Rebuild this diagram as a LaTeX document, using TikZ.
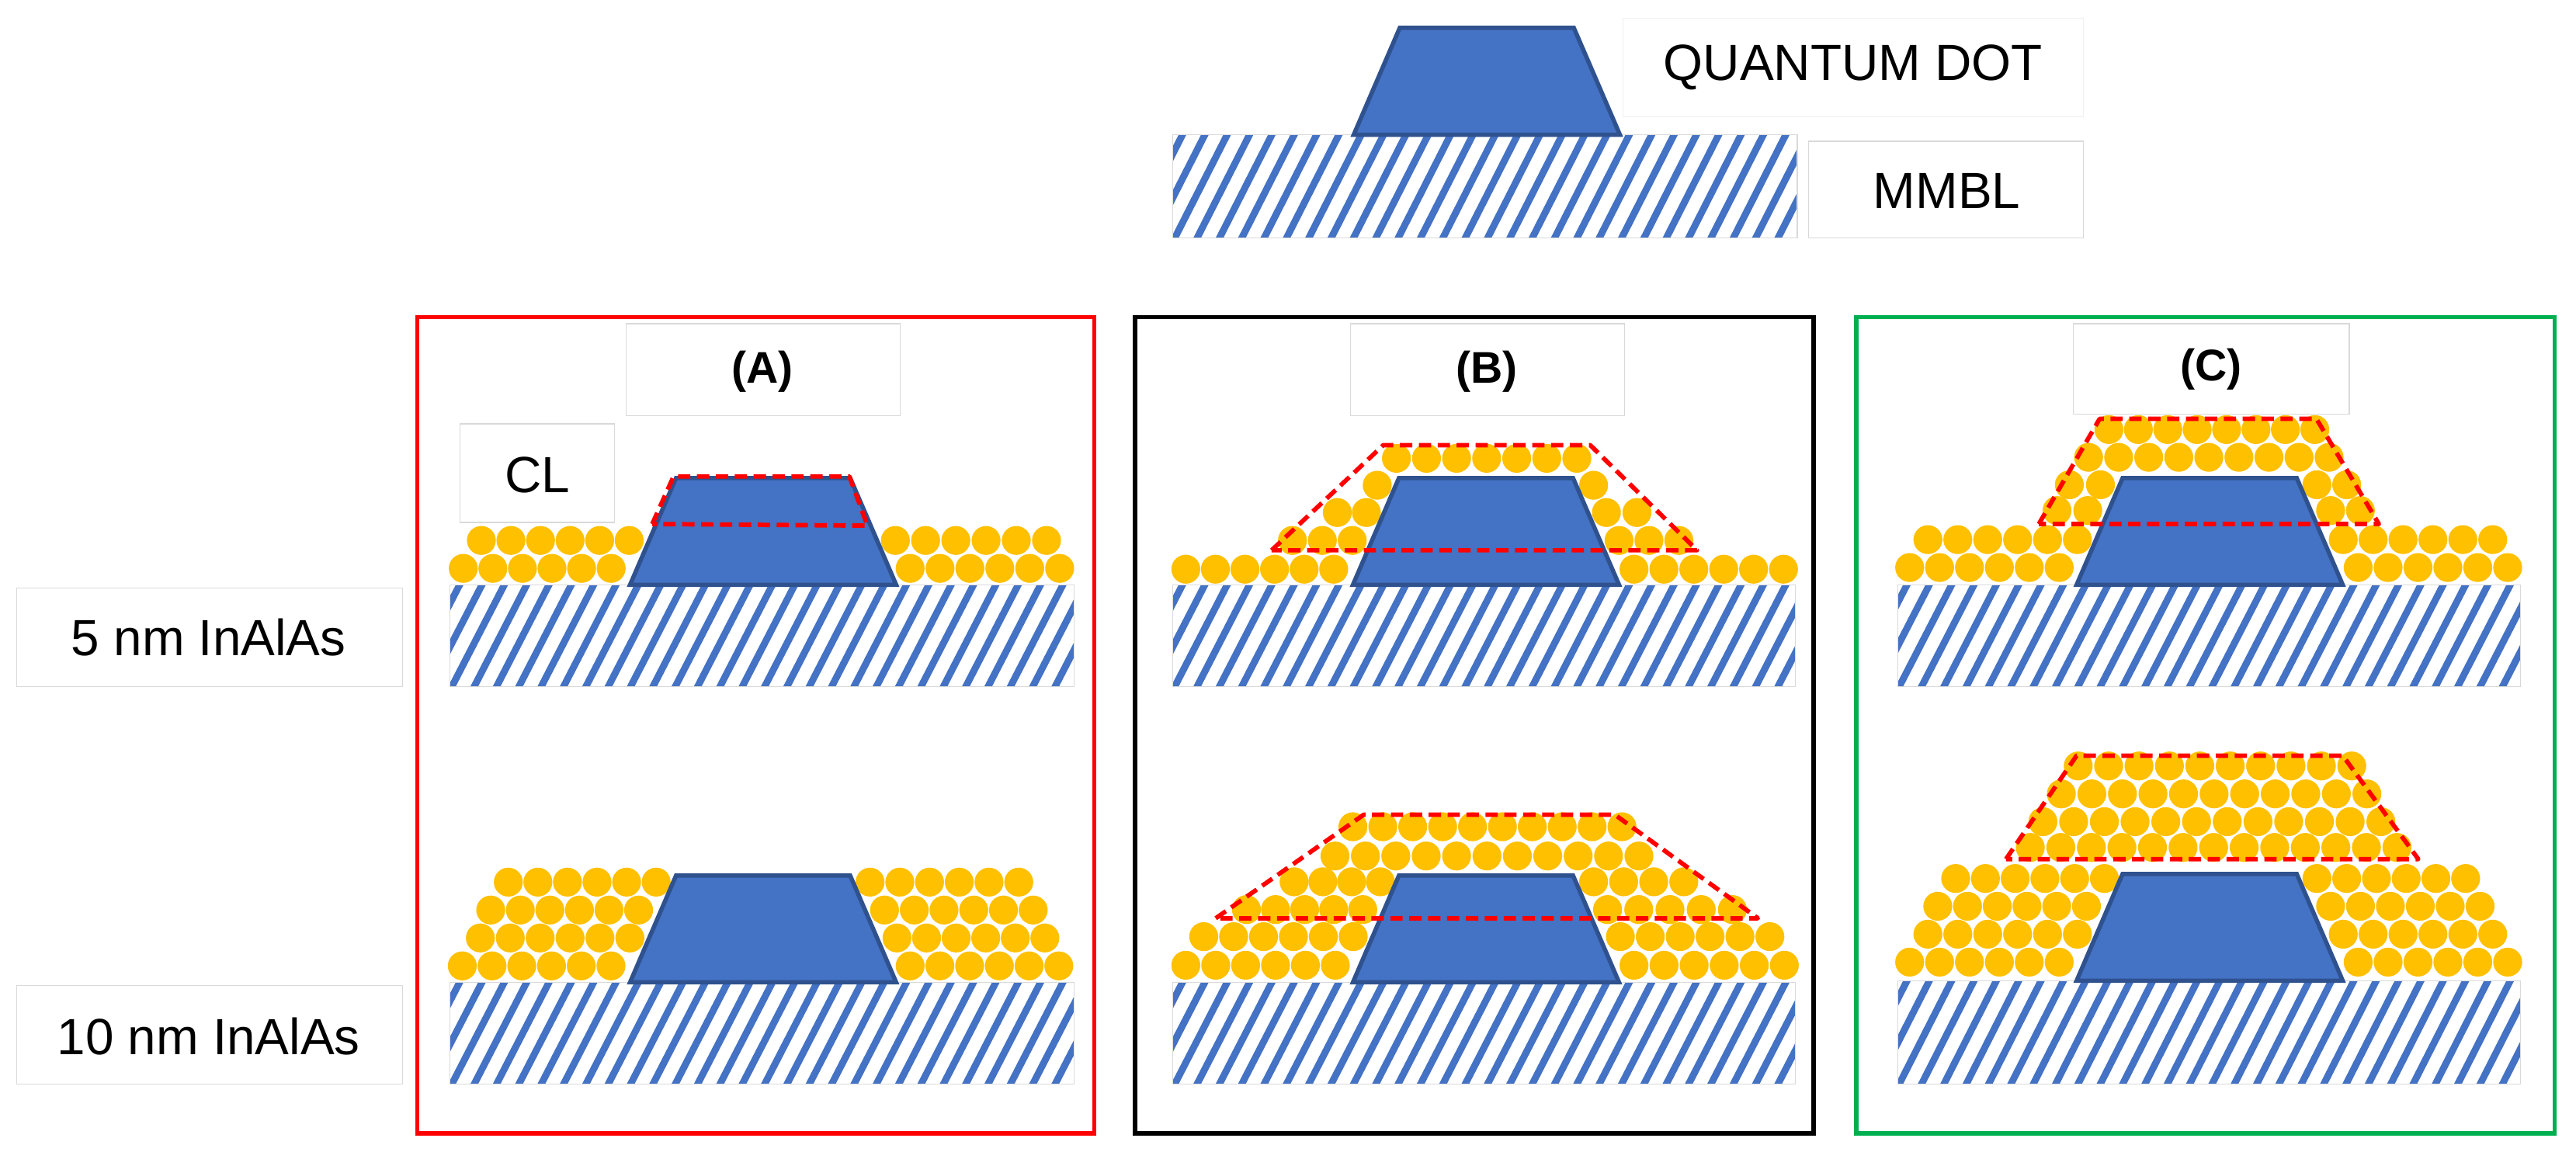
\documentclass[tikz,border=0pt]{standalone}
\usepackage{fontspec}
\setmainfont{Liberation Sans}
\definecolor{qdfill}{HTML}{4472C4}
\definecolor{qdline}{HTML}{2F528F}
\definecolor{dotc}{HTML}{FFC000}
\definecolor{hatchc}{HTML}{4472C4}
\definecolor{cgreen}{HTML}{00B050}
\newcommand\drow[4]{\foreach \i in {1,...,#3}{\fill[dotc] ({#1+(\i-1)*#4},#2) circle[radius=8.8pt];}}
\newcommand\hatchrect[4]{%
  \begin{scope}
    \clip (#1,#2) rectangle (#3,#4);
    \foreach \k in {-4,...,30}{\draw[hatchc,line width=4.2pt] ({#1+\k*13.6},{#4+2}) -- ({#1+\k*13.6+34},{#2-2});}
  \end{scope}
  \draw[gray!30,line width=0.5pt] (#1,#2) rectangle (#3,#4);}
\newcommand\qd[3]{\draw[qdline,fill=qdfill,line width=2.6pt,line join=miter] ({#1-81},#2) -- ({#1-53},{#2-65}) -- ({#1+53},{#2-65}) -- ({#1+81},#2) -- cycle;}
\tikzset{
  lbl/.style={font=\fontsize{31}{36}\selectfont, text=black},
  ttl/.style={font=\fontsize{27}{32}\selectfont\bfseries, text=black},
  lbox/.style={draw=gray!30, line width=0.6pt},
  capline/.style={draw=red, line width=2.7pt, dash pattern=on 7.5pt off 4pt, line join=round},
  frame/.style={line width=2.6pt}
}
\begin{document}
\begin{tikzpicture}[x=1pt,y=-1pt]
\useasboundingbox (0,0) rectangle (1568,701);
\fill[white] (0,0) rectangle (1568,701);

% legend
\hatchrect{714}{82}{1094}{145}
\qd{905}{82}{}
\draw[gray!12,line width=0.6pt] (988,11) rectangle (1268,71);
\node[lbl] (qdl) at (1128,41) {QUANTUM DOT};
\draw[lbox] (1101,86) rectangle (1268,145);
\node[lbl] (mmbl) at (1185,116) {MMBL};

% left labels
\draw[lbox] (10,358) rectangle (245,418);
\node[lbl] (l5) at (127,388) {5 nm InAlAs};
\draw[lbox] (10,600) rectangle (245,660);
\node[lbl] (l10) at (127,631) {10 nm InAlAs};

% frames
\draw[frame,red] (254,193) rectangle (666,690);
\draw[frame,black] (691,193) rectangle (1104,690);
\draw[frame,cgreen] (1130,193) rectangle (1555,690);

% titles
\draw[lbox] (381,197) rectangle (548,253);
\node[ttl] (ta) at (464,226) {(A)};
\draw[lbox] (822,197) rectangle (989,253);
\node[ttl] (tb) at (905,226) {(B)};
\draw[lbox] (1262,197) rectangle (1430,252);
\node[ttl] (tc) at (1346,225) {(C)};
\draw[lbox] (280,258) rectangle (374,318);
\node[lbl] (cl) at (327,289) {CL};

% ===== Panel A
\hatchrect{274}{356}{654}{418}
\drow{282}{346}{6}{18}\drow{554}{346}{6}{18.2}
\drow{293}{329}{6}{18}\drow{545}{329}{6}{18.4}
\qd{464.5}{356}{}
\draw[capline] (397,319) -- (410,290) -- (517,290) -- (528,320) -- cycle;

\hatchrect{274}{598}{654}{660}
\drow{281.4}{588}{6}{18.1}\drow{554}{588}{6}{18.1}
\drow{292.4}{571}{6}{18.2}\drow{546}{571}{6}{18}
\drow{298.7}{554}{6}{18}\drow{538.4}{554}{6}{18.1}
\drow{309.4}{537}{6}{18}\drow{529.6}{537}{6}{18.1}
\qd{464.5}{598}{}

% ===== Panel B
\hatchrect{714}{356}{1093}{418}
\drow{721.8}{346.5}{6}{18}\drow{994.6}{346.5}{6}{18.2}
\drow{786.7}{329}{3}{18.2}\drow{985.5}{329}{3}{18.2}
\drow{814}{312}{2}{17.7}\drow{977.8}{312}{2}{18.6}
\drow{838.3}{295.4}{1}{18}\drow{970}{295.4}{1}{18}
\drow{850}{279}{7}{18.3}
\qd{904.5}{356}{}
\draw[capline] (774,335) -- (842,271) -- (968,271) -- (1033,335) -- cycle;

\hatchrect{714}{598}{1093}{660}
\drow{721.8}{587.6}{6}{18.2}\drow{994.6}{587.6}{6}{18.3}
\drow{732.7}{570.2}{6}{18.2}\drow{986.3}{570.2}{6}{18.2}
\drow{758.7}{553.7}{5}{17.7}\drow{978.5}{553.7}{5}{19}
\drow{787.7}{536.8}{4}{17.5}\drow{970}{536.8}{4}{18.3}
\drow{812.6}{521.1}{11}{18.5}
\drow{823.5}{503.3}{10}{18.2}
\qd{904.5}{598}{}
\draw[capline] (740,559) -- (830,496) -- (983,496) -- (1070,559) -- cycle;

% ===== Panel C
\hatchrect{1155}{356}{1534}{418}
\drow{1162.4}{345.5}{6}{18.2}\drow{1435.4}{345.5}{6}{18.2}
\drow{1173.5}{328.5}{6}{18.2}\drow{1426.3}{328.5}{6}{18.2}
\drow{1252.1}{310.8}{2}{18.7}\drow{1418.6}{310.8}{2}{18.1}
\drow{1259.6}{295.1}{2}{18.9}\drow{1410.3}{295.1}{2}{18.1}
\drow{1271.3}{278.4}{9}{18.3}
\drow{1283.7}{261.5}{8}{17.9}
\qd{1345}{356}{}
\draw[capline] (1241,319) -- (1278,255) -- (1410,255) -- (1448,319) -- cycle;

\hatchrect{1155}{597}{1534}{660}
\drow{1162.4}{585.7}{6}{18.2}\drow{1435.4}{585.7}{6}{18.2}
\drow{1173.5}{568.7}{6}{18.2}\drow{1426.3}{568.7}{6}{18.2}
\drow{1179.5}{551.7}{6}{18.1}\drow{1418.6}{551.7}{6}{18.2}
\drow{1190.4}{534.8}{6}{18.1}\drow{1410.3}{534.8}{6}{18.1}
\drow{1235.8}{515.9}{13}{18.6}
\drow{1243.5}{500.2}{12}{18.7}
\drow{1254.7}{483.3}{11}{18.6}
\drow{1265}{466.3}{10}{18.5}
\qd{1345}{597}{}
\draw[capline] (1221,523) -- (1264,460) -- (1426,460) -- (1472,523) -- cycle;
\end{tikzpicture}
\end{document}
